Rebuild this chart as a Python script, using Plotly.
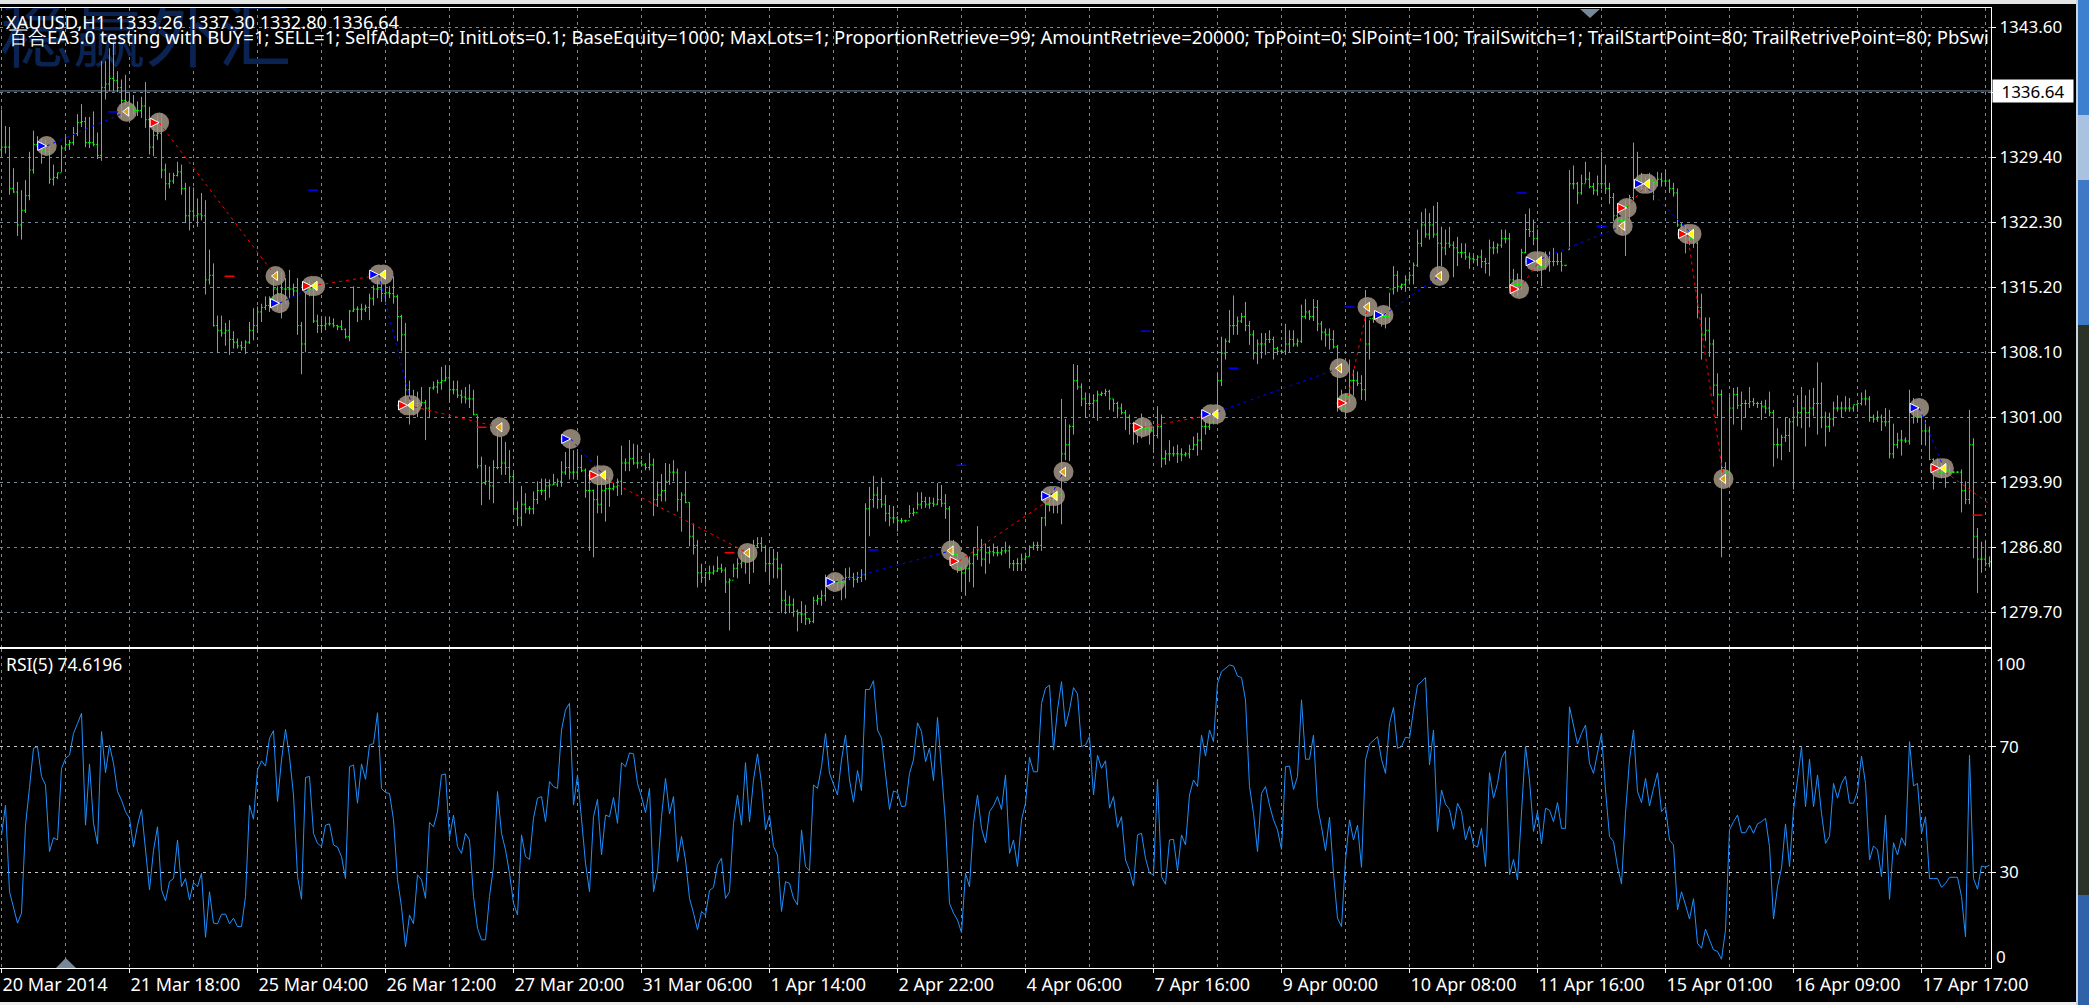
import plotly.graph_objects as go

# hourly bars of XAUUSD, one value per bar
highs = [1334.6,1332.8,1332.7,1328.2,1326.7,1325.8,1326.9,1330,1332.3,1331.7,1331.5,1331.3,1330.6,1328.6,1327.7,1330.7,
1331.6,1331.3,1332.7,1334.1,1335.2,1333.8,1333.8,1334.4,1332.1,1339.9,1339.9,1341.3,1342,1338.8,1337.9,1338.4,
1336.4,1336.2,1335.5,1336,1337.6,1334.9,1333.5,1334,1334.2,1328.7,1327.7,1327.7,1328.9,1328.6,1326.6,1326.2,
1326.1,1324.9,1325.5,1324.7,1319.3,1317.8,1312.1,1312.1,1311.3,1311.6,1310.4,1309.6,1309.3,1309.4,1311.4,1312.9,
1313.1,1313.4,1314.2,1314.2,1316.4,1315.3,1316.9,1316.2,1317.1,1315.6,1316.2,1311.4,1315.6,1316,1315.1,1312.2,
1311.8,1312,1312,1311.8,1311.1,1311.6,1310.7,1312.7,1315.3,1313.1,1313.4,1313.3,1314.5,1315.4,1316,1316.4,
1315.6,1315.3,1316.4,1314.4,1312.2,1311.3,1305,1304,1303.8,1304.3,1302.9,1304.3,1304.9,1305.1,1306.5,1306.7,
1306.5,1305,1305,1304,1304.3,1304.6,1304,1301.2,1296.7,1295.8,1295.6,1296.3,1299.6,1298.9,1298.3,1297.4,
1294.9,1291.8,1293.5,1292.7,1291.3,1292.9,1294,1294.3,1294.3,1294.2,1294.8,1294.3,1296.2,1297.2,1298.2,1297.4,
1297.2,1296.9,1295.4,1294.2,1293.1,1296.8,1294.7,1294.3,1294.5,1293.8,1294.3,1297.9,1296.5,1298.5,1298.1,1298,
1296.3,1296,1297.1,1296.5,1294,1294.8,1296,1295.9,1296.3,1295.4,1292.8,1295.1,1291.7,1289.4,1287.6,1285,
1284.1,1284.8,1284.8,1285.8,1285,1284.6,1283.4,1285,1285.6,1286,1286.5,1286.1,1287.6,1287.9,1287.9,1287,
1286.5,1286.6,1286.3,1285,1282.1,1281.5,1281.2,1280,1280.9,1280.5,1279,1281.4,1281.6,1282.1,1283.8,1283.6,
1283.8,1283.4,1283.6,1284.5,1284.6,1284,1284.1,1284.4,1291.6,1293.4,1294.6,1293.4,1294.4,1292.5,1291.4,1291.3,
1290.2,1290,1289.8,1291.4,1291.1,1292.8,1292.8,1292.3,1292.3,1292.2,1293.8,1293.6,1292.6,1291.3,1287.6,1286.1,
1284.7,1284.9,1285.8,1286.7,1289.1,1287.7,1287.2,1286.9,1287.2,1286.9,1286.7,1287.4,1287,1285.4,1285.6,1286.1,
1286.2,1287,1287.4,1287.4,1290.1,1292.7,1293.1,1293.2,1293.1,1303,1300.8,1300.2,1306.8,1306.7,1304.7,1303.7,
1303.4,1303.5,1303.9,1303.8,1304.1,1304,1303,1302.7,1302.5,1301.8,1301.3,1300.5,1300.2,1301.4,1300.5,1300.3,
1300,1302.2,1301.3,1297.4,1298.5,1297.8,1298,1297.6,1297.2,1298,1298.9,1299.3,1301.1,1300.7,1300.9,1301.8,
1305.8,1309.8,1309.6,1312.7,1314.3,1312,1312.4,1313.6,1311.5,1310.5,1309.5,1310.2,1310.2,1310.5,1309.8,1308.7,
1308.4,1311.2,1310.5,1310.5,1309.6,1313.3,1313.9,1312.7,1313.9,1313.8,1311.5,1310.7,1310.7,1310.5,1308.9,1304,
1303.6,1307.3,1306.2,1306,1305.6,1314.9,1311.6,1312.2,1312.5,1312.7,1312.5,1314.6,1317.5,1317,1315.6,1316.5,
1316.9,1317.9,1321.5,1323.4,1323.8,1323.3,1324.1,1324.5,1321.8,1321.5,1321.8,1320.2,1320.7,1320,1320,1319,
1318.7,1318.7,1319.3,1318.4,1320.4,1320.2,1320,1321.5,1321.5,1321.1,1317.2,1316.7,1319.4,1323.2,1323.8,1322.6,
1321.5,1318.5,1319.1,1319.1,1319.5,1318.9,1319,1317.6,1328,1328.5,1326.7,1327.5,1328.9,1327.8,1326.6,1327.4,
1330,1328.6,1326.6,1325.5,1324.4,1322.9,1324.7,1325.3,1331,1330,1327.7,1327.3,1327.7,1326.7,1327.8,1327.7,
1328,1327,1326.6,1326,1322.2,1322,1321.5,1321.1,1320.2,1314.5,1311.9,1311.9,1309.5,1305.8,1304,1296.1,
1303.3,1304.2,1304.3,1303.8,1302.9,1304.3,1303.1,1302.7,1302.8,1302.9,1303.8,1301.8,1299.8,1299.1,1301,1300.9,
1301.8,1303.4,1304.3,1303.4,1304,1304.2,1307,1304.8,1301.6,1301.5,1302.7,1303.4,1302.7,1303.3,1303.1,1302.3,
1302.5,1303.7,1304,1303.3,1301.3,1301.7,1301.3,1302,1301.8,1300.3,1299.3,1299.6,1298.8,1304,1303.1,1302.3,
1301.6,1300.7,1300,1296.5,1296.5,1296.3,1296,1295.6,1295.1,1295.1,1295.3,1294,1301.8,1298.7,1288.9,1287.4,
1287.6,1285.8]
lows = [1329.5,1329.8,1325.3,1325.5,1320.8,1320.4,1323.3,1324.7,1327.6,1330.2,1328.7,1329.6,1326.5,1326.3,1327,1327.8,
1330.1,1330.2,1330.7,1331.7,1332.7,1330.5,1330.4,1330.6,1329.2,1329,1335.7,1336.6,1336.6,1336.5,1333.7,1335.1,
1333.5,1334,1333.9,1333.7,1332.6,1329.7,1329.5,1331.3,1327.1,1324.7,1326,1326.5,1327.3,1325.3,1322.2,1321.4,
1322.5,1321.8,1322.5,1314.4,1315.5,1310.9,1308,1309.8,1308.8,1307.8,1308.5,1308.5,1308.3,1307.9,1309,1309.4,
1310.2,1311.4,1312.7,1312.5,1313.4,1312.7,1311.8,1313.4,1314,1314.2,1310,1305.7,1308.1,1314.2,1311.3,1310.2,
1310.2,1310.5,1311,1310.8,1310.5,1310.5,1309.6,1309.3,1312.5,1311.4,1311.6,1312.5,1311.6,1313.2,1314,1313.6,
1313.3,1314,1313.4,1309.3,1308.2,1302.5,1300.2,1301.2,1301,1302.2,1298.5,1300.9,1304,1303.6,1304,1304.9,
1302.7,1303.5,1303.1,1302.5,1302.5,1302,1301.2,1295.4,1291.4,1293.6,1292,1291.6,1295.3,1294.7,1294.7,1293.8,
1290.5,1289.1,1289.1,1290.5,1290.4,1290.4,1291.5,1292.5,1291.9,1292.2,1293.6,1293.4,1293.4,1294.7,1294.2,1294.2,
1294.2,1295,1292.2,1286.4,1285.7,1290.5,1290.5,1289.6,1291.2,1293,1292.4,1292.5,1295.1,1295.1,1295.8,1295.4,
1295.6,1295.2,1295.2,1290.2,1291.2,1291.8,1291.8,1293.6,1294,1290.7,1288.5,1291.6,1286.9,1286,1282.4,1282.9,
1282.5,1283.2,1283.8,1284.1,1284,1281.8,1277.7,1283.5,1283.4,1284.5,1283.9,1282.8,1284,1286.7,1286.3,1284.1,
1283,1283.4,1283.4,1279.6,1279.5,1279.6,1279.2,1277.6,1278.5,1278.3,1278.4,1278.5,1280.5,1280.4,1280.9,1282.5,
1282.5,1282.1,1281,1281.2,1283.2,1282.4,1282.9,1283,1283.2,1288,1291.1,1291,1291.1,1289.6,1289.1,1289.4,
1288.5,1289.4,1289.5,1290,1290.2,1290.9,1291,1291.1,1291,1291.2,1291.4,1291.2,1289.9,1286.5,1285.8,1284,
1282,1281.5,1283,1282.4,1285.4,1284.7,1283.9,1285,1285.8,1285.8,1285.9,1286.1,1284.5,1284.2,1284.2,1284.2,
1285,1285.8,1286.5,1286.4,1286.4,1289.1,1290.7,1290.5,1290.5,1289.3,1296.3,1296.2,1299.1,1304,1302.2,1300.9,
1302.2,1301,1300.6,1303.3,1303.3,1301.8,1301.6,1300.9,1301.3,1299.6,1299.1,1298,1298.2,1298.7,1299.1,1298,
1297.1,1298.7,1295.5,1295.8,1296.2,1296.7,1296,1296.2,1296.7,1296.5,1297.4,1296.8,1297.4,1299.1,1299.6,1300.2,
1300.2,1304.4,1307.3,1309.1,1310,1310,1311.3,1310.4,1308.9,1307.3,1306.8,1307.4,1307.8,1309.1,1307.3,1307.8,
1307.9,1307.8,1308.1,1308.7,1308.7,1309.1,1311.7,1311.6,1311.5,1310.4,1309.4,1308.7,1308.4,1308.5,1301.6,1301.6,
1300.8,1302.5,1303.4,1304.4,1302.9,1302.8,1307.3,1311.3,1311.5,1310.9,1310.7,1311.3,1314.4,1314.7,1314.9,1314.7,
1315.5,1315.5,1317.4,1319.6,1320.6,1320.4,1320.6,1316.6,1317.5,1318.7,1319.5,1316.3,1317.5,1318.4,1318.2,1317.2,
1317.8,1317.5,1317.3,1316.7,1316.4,1318.8,1318.9,1319.5,1320,1315.1,1314.2,1314.2,1314.9,1318.9,1320.7,1319.8,
1316.9,1315.3,1317.1,1316.9,1317.5,1317.6,1316.9,1317.5,1319.3,1325.9,1324.3,1325.3,1326.6,1326,1325.3,1325.2,
1325.9,1325.4,1324.3,1322.4,1321.5,1320.9,1318.6,1322.4,1324.7,1326.6,1325.5,1325.5,1326.2,1324.7,1326.2,1326.2,
1326.2,1325.5,1325.1,1321.8,1320.7,1318.9,1319.8,1319.5,1311.8,1307.3,1309.3,1307.6,1303.3,1301.1,1285.7,1293.4,
1293.3,1300.2,1301.9,1299.6,1301,1302,1302.2,1302,1300.7,1301.4,1301.1,1295.6,1296.5,1296.3,1298.3,1297.2,
1293.1,1300,1299.8,1297.8,1299.9,1301.1,1299.1,1299.8,1297.8,1299.4,1300,1301.6,1301,1301.6,1301.6,1301.6,
1301.6,1302.3,1302.3,1300.5,1300.4,1300.5,1299.5,1300,1296.5,1296.5,1297.6,1296.8,1298.2,1298,1300.3,1300.4,
1298,1297.9,1296.3,1293.1,1294.9,1294.3,1293.3,1294.9,1294.9,1294.9,1290.6,1291.5,1291.5,1285.6,1281.8,1284,
1284.7,1284.6]
opens = [1330.2,1330.5,1330.5,1326,1325.6,1322,1323.6,1325.2,1328,1330.8,1330.5,1330.2,1330,1327,1327.2,1327.7,
1330.4,1330.8,1331,1332,1333.2,1333.3,1331,1331,1330.8,1329.6,1337,1337.4,1338,1337.8,1337,1335.6,
1335.5,1335,1334.5,1334.5,1335,1333.5,1330.5,1331.8,1332,1328,1326.5,1326.8,1327.4,1327.8,1326,1323,
1323.5,1323,1323.2,1323,1316,1316.5,1311,1310.5,1310.2,1310.5,1309.5,1309.2,1308.8,1308.6,1309.2,1310.5,
1311,1312.5,1313,1313.2,1314,1315,1314.5,1315,1315,1315,1314.8,1311,1309,1314.8,1315,1311.5,
1311,1311,1311.2,1311.2,1311,1310.9,1310.6,1309.8,1312.6,1312.8,1312.8,1312.8,1313,1314,1315,1315,
1314.5,1314.6,1314.5,1314.2,1312,1310,1304,1302,1302.5,1302.5,1302.6,1302,1304.2,1304.3,1304.8,1305,
1305.3,1304,1304,1303.4,1303.2,1303,1303,1301.3,1295.7,1293.8,1294,1293.5,1295.5,1295.5,1296,1295.5,
1294.5,1291,1290,1291.5,1291,1291,1292,1293,1293,1293.5,1293.6,1293.7,1294,1295,1295.5,1295,
1295,1295.5,1295.2,1293,1293,1292,1291.5,1293,1293.2,1293.2,1293.4,1294,1296,1296,1296.5,1296,
1296,1295.8,1295.5,1295.8,1292,1292.5,1293,1294,1295,1295,1292,1292.5,1291.7,1288,1287,1284,
1283.5,1284,1284,1284.2,1284.5,1284.3,1283,1283.2,1284.5,1285,1285.2,1286,1285.5,1287,1287.2,1286.8,
1285,1285,1285.5,1284.5,1281,1280.5,1280.5,1279.8,1279.5,1279.5,1279,1278.7,1281,1281.2,1281.5,1283,
1283,1283,1283,1283,1283.5,1283.5,1283.3,1283.5,1283.8,1291,1292,1292.5,1292,1291.5,1290.5,1290,
1290,1289.7,1289.7,1289.7,1290.5,1290.6,1291.5,1291.8,1291.5,1291.6,1291.5,1292,1291.6,1291,1287,1286,
1284.5,1284,1284.5,1285,1286,1286.5,1285.5,1286.2,1286.3,1286.2,1286.2,1286.4,1286.4,1285,1285,1285,
1285.5,1285.8,1286.8,1287,1287,1290,1291.5,1292,1292,1292.5,1297,1298,1300,1305,1304.3,1303,
1302.5,1302.5,1302.8,1303.5,1303.6,1303.8,1303,1302.5,1302,1301.5,1301,1300.3,1299.5,1299.5,1299.8,1299.8,
1299.5,1299,1300,1296.5,1297,1297,1297,1297,1296.9,1297,1297.5,1298,1298.5,1300,1300,1300.5,
1301,1305,1308,1309.3,1311,1311,1311.5,1312,1311,1310,1308,1309,1309,1309.5,1309.5,1308.5,
1308.2,1308.2,1309,1309.5,1309,1309.3,1312,1312.5,1312,1313,1311.2,1310.3,1310,1309.5,1308.7,1303,
1302,1303.3,1305,1305,1304.7,1304,1309,1311.8,1311.8,1312,1312,1312,1315,1316.5,1315.3,1315.5,
1316,1316.5,1317.6,1320,1322,1321,1322,1321,1320,1319.5,1320,1319.8,1319.5,1319,1319,1318.5,
1318.3,1318.2,1318.5,1318,1317.8,1319.5,1319.5,1319.8,1320.5,1320.5,1316,1315.5,1315.5,1319,1321.5,1321.3,
1320.5,1317.5,1317.5,1318,1318,1318,1318,1317.6,1319.3,1326.5,1326.5,1325.5,1326.5,1327,1326.2,1325.8,
1326.5,1326.5,1326,1325,1323,1322.5,1322.5,1324,1325,1326.8,1327,1326.5,1326.5,1326.8,1326.6,1327,
1326.8,1326.8,1326,1325.5,1322,1321.5,1321,1320.5,1320,1313,1310,1310.5,1309,1304.5,1303.5,1295.5,
1295,1302,1303.5,1302.3,1302.5,1302.5,1302.7,1302.5,1302.5,1302.2,1302,1301.5,1298,1298,1298.8,1299,
1300.5,1301,1301.5,1302,1301.5,1302,1302.5,1302.5,1301,1300,1300.8,1302,1302,1302,1302,1302,
1302.4,1302.5,1303,1303,1301,1300.8,1301,1300.5,1300.5,1297,1298,1298.5,1298.5,1298.4,1302,1301,
1301,1299.5,1299.5,1296.4,1295.5,1295,1295,1295.2,1295,1295,1295,1293,1292,1298,1288,1285.5,
1285.5,1285]
closes = [1330.5,1330.5,1326,1325.6,1322,1323.6,1325.2,1328,1330.8,1330.5,1330.2,1330,1327,1327.2,1327.7,1330.4,
1330.8,1331,1332,1333.2,1333.3,1331,1331,1330.8,1329.6,1337,1337.4,1338,1337.8,1337,1335.6,1335.5,
1335,1334.5,1334.5,1335,1333.5,1330.5,1331.8,1332,1328,1326.5,1326.8,1327.4,1327.8,1326,1323,1323.5,
1323,1323.2,1323,1316,1316.5,1311,1310.5,1310.2,1310.5,1309.5,1309.2,1308.8,1308.6,1309.2,1310.5,1311,
1312.5,1313,1313.2,1314,1315,1314.5,1315,1315,1315,1314.8,1311,1309,1314.8,1315,1311.5,1311,
1311,1311.2,1311.2,1311,1310.9,1310.6,1309.8,1312.6,1312.8,1312.8,1312.8,1313,1314,1315,1315,1314.5,
1314.6,1314.5,1314.2,1312,1310,1304,1302,1302.5,1302.5,1302.6,1302,1304.2,1304.3,1304.8,1305,1305.3,
1304,1304,1303.4,1303.2,1303,1303,1301.3,1295.7,1293.8,1294,1293.5,1295.5,1295.5,1296,1295.5,1294.5,
1291,1290,1291.5,1291,1291,1292,1293,1293,1293.5,1293.6,1293.7,1294,1295,1295.5,1295,1295,
1295.5,1295.2,1293,1293,1292,1291.5,1293,1293.2,1293.2,1293.4,1294,1296,1296,1296.5,1296,1296,
1295.8,1295.5,1295.8,1292,1292.5,1293,1294,1295,1295,1292,1292.5,1291.7,1288,1287,1284,1283.5,
1284,1284,1284.2,1284.5,1284.3,1283,1283.2,1284.5,1285,1285.2,1286,1285.5,1287,1287.2,1286.8,1285,
1285,1285.5,1284.5,1281,1280.5,1280.5,1279.8,1279.5,1279.5,1279,1278.7,1281,1281.2,1281.5,1283,1283,
1283,1283,1283,1283.5,1283.5,1283.3,1283.5,1283.8,1291,1292,1292.5,1292,1291.5,1290.5,1290,1290,
1289.7,1289.7,1289.7,1290.5,1290.6,1291.5,1291.8,1291.5,1291.6,1291.5,1292,1291.6,1291,1287,1286,1284.5,
1284,1284.5,1285,1286,1286.5,1285.5,1286.2,1286.3,1286.2,1286.2,1286.4,1286.4,1285,1285,1285,1285.5,
1285.8,1286.8,1287,1287,1290,1291.5,1292,1292,1292.5,1297,1298,1300,1305,1304.3,1303,1302.5,
1302.5,1302.8,1303.5,1303.6,1303.8,1303,1302.5,1302,1301.5,1301,1300.3,1299.5,1299.5,1299.8,1299.8,1299.5,
1299,1300,1296.5,1297,1297,1297,1297,1296.9,1297,1297.5,1298,1298.5,1300,1300,1300.5,1301,
1305,1308,1309.3,1311,1311,1311.5,1312,1311,1310,1308,1309,1309,1309.5,1309.5,1308.5,1308.2,
1308.2,1309,1309.5,1309,1309.3,1312,1312.5,1312,1313,1311.2,1310.3,1310,1309.5,1308.7,1303,1302,
1303.3,1305,1305,1304.7,1304,1309,1311.8,1311.8,1312,1312,1312,1315,1316.5,1315.3,1315.5,1316,
1316.5,1317.6,1320,1322,1321,1322,1321,1320,1319.5,1320,1319.8,1319.5,1319,1319,1318.5,1318.3,
1318.2,1318.5,1318,1317.8,1319.5,1319.5,1319.8,1320.5,1320.5,1316,1315.5,1315.5,1319,1321.5,1321.3,1320.5,
1317.5,1317.5,1318,1318,1318,1318,1317.6,1317.6,1326.5,1326.5,1325.5,1326.5,1327,1326.2,1325.8,1326.5,
1326.5,1326,1325,1323,1322.5,1322.5,1324,1325,1326.8,1327,1326.5,1326.5,1326.8,1326.6,1327,1326.8,
1326.8,1326,1325.5,1322,1321.5,1321,1320.5,1320,1313,1310,1310.5,1309,1304.5,1303.5,1295.5,1295,
1302,1303.5,1302.3,1302.5,1302.5,1302.7,1302.5,1302.5,1302.2,1302,1301.5,1298,1298,1298.8,1299,1300.5,
1301,1301.5,1302,1301.5,1302,1302.5,1302.5,1301,1300,1300.8,1302,1302,1302,1302,1302,1302.4,
1302.5,1303,1303,1301,1300.8,1301,1300.5,1300.5,1297,1298,1298.5,1298.5,1298.4,1302,1301,1301,
1299.5,1299.5,1296.4,1295.5,1295,1295,1295.2,1295,1295,1295,1293,1292,1298,1288,1285.5,1285.5,
1285,1285.2]
rsi = [41.9,51.4,23.8,19,13.8,17,45,57,69.5,70,60.5,57.8,36.6,41,40.3,63,
66.3,67.3,74.2,77.4,80.6,45,64.5,45.6,39,74.8,61.7,70.5,64.7,55.7,53,49.3,
47.2,38,45,50,38.2,24.4,37,44.5,24.4,20.9,27,28,40.3,25.4,28,21.2,
26.7,25.4,29.7,9.3,23.8,13.8,13.6,16.6,16.7,13.6,15.4,12.7,12.7,22.3,51.4,46.9,
62.6,65.5,63.8,72.7,75.1,52.5,65.8,75.5,66.8,54.6,28.6,21.4,60.2,60.5,42.4,39.2,
38.2,45,45.4,38.7,38,35,28,63.6,64.2,52,64.5,59.6,70.5,71,80.8,56.7,
55.4,55.1,46.7,27.6,19,6.3,16.4,13.6,29.2,27.6,21.7,45.9,44.5,49.3,61,61.3,
41.1,48.2,38.2,36,42.4,40.3,22.3,12.2,8.5,8.5,22.3,31.8,55.7,42.4,37.1,29.7,
20.1,16.4,41.9,35,34.1,47.2,53.6,54.1,46.1,58.9,57.3,56.7,75.3,81.7,83.8,51.4,
61,47.7,32.9,23.8,47.7,53.2,35.5,48.2,47.7,53.8,45.6,64.9,63.6,68,67.7,58.3,
54.1,49,56.7,23.8,30.2,47.7,59.9,48.6,54.1,33.4,41.4,33.9,21.7,17,11.7,17.5,
16.4,24.2,25.2,32.3,34.5,21.7,23.8,45.6,54.6,45,64.9,46.1,59.4,67.7,58.3,43.5,
48.2,38.2,35.5,17.5,27,26.5,21.7,19.6,43.5,31.8,30.5,57.8,56.7,63.6,74.2,61.5,
57.8,54.6,65.8,73.7,59.4,52.3,62.4,56,88.2,88.2,91,75.3,72.7,62,50,55.9,
55.4,50.9,51.1,61.5,65.8,77.6,74.8,65.2,69.5,59.2,79.3,62.6,45.6,20.1,17,14.8,
10.8,29.7,25.4,45.6,54.6,44,39.4,49.3,51.2,54.1,50,61,36,40.3,31.8,46.7,
52,66.6,62,62,83.8,88.6,89.6,68.9,81.7,90.7,76.4,81.7,88.8,86.8,70,70.5,
73.2,54.6,67.3,63.1,65.5,50.4,54.1,44.3,47.7,33.9,30.7,25.6,41.9,42.4,34.5,29.7,
29.2,59.6,28.6,26.2,40.3,40.5,30.5,41.9,38.7,54.6,59.4,57.3,73.7,67,75.3,71.6,
90.2,93.9,94.9,96,95.7,92.5,92,84.9,57.3,48.8,36.6,55.1,57.3,51.4,46.7,43.5,
37.3,63.6,63.8,56.4,60.5,84.9,66,66,73.7,50.9,44.5,36.9,47.5,29.7,15.4,12.7,
33.9,46.7,40.3,45,31.6,65.8,70.8,72.1,73.2,66,61.5,77.4,82.5,69.5,70,73,
72.7,81.7,89.6,90.7,92,64.2,75.3,43,56.2,51.7,50,43.7,52,49.3,40.3,44.7,
38.7,38,44,31.8,61.7,53.6,58.3,66.3,68.7,29.2,34.1,27.6,49.8,70.2,59.4,43,
49.3,39,50.4,49.8,46.1,52.2,44,44,82.7,76.4,70.8,74.2,76.9,64.7,61.5,68,
74.2,56.2,41.4,39.8,31.8,26.3,48.8,65.8,75.3,55.7,52.2,59.9,51.1,56.7,61.7,49.3,
50.9,40.3,38.7,18,23.8,19.6,15.1,21.6,7.4,5.8,11.9,8.5,5.3,4.8,2.3,11.6,
43.5,46.1,48.2,42.6,42.6,45,42.4,45.4,46.1,47.2,38.2,15.1,25.4,31.3,45.4,31.8,
49.8,59.4,70,50.9,66,50.9,61,48.8,39.2,41.4,58.3,53.6,58.3,60.6,52,52,
55.7,67,58.3,33.9,38.4,37.1,28.6,48.2,21.4,39.4,35.5,41,38.4,71.6,57.5,58.3,
42.4,47.7,28,28,28,25.2,26.5,28.4,28.4,28.4,22.3,9.5,67.3,28,24.6,32,
31.6,32.3]

time_labels = ["20 Mar 2014", "21 Mar 18:00", "25 Mar 04:00", "26 Mar 12:00", "27 Mar 20:00", "31 Mar 06:00",
               "1 Apr 14:00", "2 Apr 22:00", "4 Apr 06:00", "7 Apr 16:00", "9 Apr 00:00", "10 Apr 08:00",
               "11 Apr 16:00", "15 Apr 01:00", "16 Apr 09:00", "17 Apr 17:00"]
price_ticks = [1343.6, 1336.5, 1329.4, 1322.3, 1315.2, 1308.1, 1301.0, 1293.9, 1286.8, 1279.7]
price_labels = ["1343.60", "", "1329.40", "1322.30", "1315.20", "1308.10", "1301.00", "1293.90", "1286.80", "1279.70"]
last_price = 1336.64

# trades, (bar, price)
buy_bars = [11.3, 69.5, 94.3, 142.3, 208.4, 262.3, 302.3, 345.5, 383.4, 410.5, 479.4]
buy_prices = [1330.63, 1313.45, 1316.58, 1298.63, 1283.0, 1292.4, 1301.33, 1312.17, 1318.04, 1326.5, 1302.02]
sell_bars = [39.4, 77.5, 101.5, 149.3, 239.4, 285.3, 336.3, 379.4, 406.3, 421.5, 484.6]
sell_prices = [1333.18, 1315.34, 1302.3, 1294.67, 1285.27, 1299.9, 1302.56, 1315.0, 1323.86, 1321.02, 1295.43]
orange_bars = [31.3, 68.5, 124.6, 186.5, 237.4, 265.5, 334.5, 341.5, 359.5, 405.3, 430.5]
orange_prices = [1334.38, 1316.43, 1299.9, 1286.18, 1286.43, 1295.03, 1306.35, 1313.05, 1316.43, 1321.9, 1294.26]
yellow_bars = [78.4, 95.5, 102.5, 150.5, 263.4, 303.6, 384.5, 411.5, 422.5, 485.6]
yellow_prices = [1315.34, 1316.58, 1302.3, 1294.67, 1292.4, 1301.33, 1318.04, 1326.5, 1321.02, 1295.43]

blue_trades = [(11.3, 1330.63, 31.3, 1334.38), (69.5, 1313.45, 78.4, 1315.34), (94.3, 1316.58, 102.5, 1302.3),
               (142.3, 1298.63, 150.5, 1294.67), (208.4, 1283.0, 237.4, 1286.43), (262.3, 1292.4, 265.5, 1295.03),
               (302.3, 1301.33, 334.5, 1306.35), (345.5, 1312.17, 359.5, 1316.43), (383.4, 1318.04, 405.3, 1321.9),
               (410.5, 1326.5, 422.5, 1321.02), (479.4, 1302.02, 485.6, 1295.43)]
red_trades = [(39.4, 1333.18, 68.5, 1316.43), (77.5, 1315.34, 95.5, 1316.58), (101.5, 1302.3, 124.6, 1299.9),
              (149.3, 1294.67, 186.5, 1286.18), (239.4, 1285.27, 263.4, 1292.4), (285.3, 1299.9, 303.6, 1301.33),
              (336.3, 1302.56, 341.5, 1313.05), (379.4, 1315.0, 384.5, 1318.04), (406.3, 1323.86, 411.5, 1326.5),
              (421.5, 1321.02, 430.5, 1294.26), (484.6, 1295.43, 497.4, 1291.4)]

# short level dashes left on the chart
blue_dash_bars = [27.9, 77.9, 218, 240, 286, 308, 337, 380, 400]
blue_dash_prices = [1334.35, 1325.8, 1286.5, 1295.75, 1310.4, 1306.35, 1313.05, 1325.5, 1321.86]
red_dash_bars = [57, 120, 182, 494]
red_dash_prices = [1316.4, 1299.9, 1286.2, 1290.3]

W, H = 2089, 1005
GRID = "#778899"
FONT = "Noto Sans"


def segments(rows):
    xs, ys = [], []
    for x0, y0, x1, y1 in rows:
        xs += [x0, x1, None]
        ys += [y0, y1, None]
    return xs, ys


# bar chart style: range line, open tick left, close tick right
bar_rows = []
for i, (o, h, l, c) in enumerate(zip(opens, highs, lows, closes)):
    bar_rows += [(i, l, i, h), (i - 0.35, o, i, o), (i, c, i + 0.35, c)]
bar_x, bar_y = segments(bar_rows)

fig = go.Figure()

# watermark sits under everything
fig.add_trace(go.Scatter(x=[36], y=[1341.9], mode="text", text=["稳赢外汇"], textposition="middle center",
                         textfont=dict(family="Noto Sans CJK SC", size=73, color="#0b2352"), hoverinfo="skip"))

# grey halos go under the bars
fig.add_trace(go.Scatter(x=buy_bars + sell_bars + orange_bars + yellow_bars,
                         y=buy_prices + sell_prices + orange_prices + yellow_prices,
                         mode="markers", marker=dict(symbol="circle", size=20, color="#8a7f70"), hoverinfo="skip"))

fig.add_trace(go.Scatter(x=bar_x, y=bar_y, mode="lines", line=dict(color="#00ff00", width=1), hoverinfo="skip"))

bx, by = segments(blue_trades)
rx, ry = segments(red_trades)
fig.add_trace(go.Scatter(x=bx, y=by, mode="lines", line=dict(color="#0000ff", width=1, dash="3px,4px"), hoverinfo="skip"))
fig.add_trace(go.Scatter(x=rx, y=ry, mode="lines", line=dict(color="#ff0000", width=1, dash="3px,4px"), hoverinfo="skip"))

fig.add_trace(go.Scatter(x=blue_dash_bars, y=blue_dash_prices, mode="markers", hoverinfo="skip",
                         marker=dict(symbol="line-ew", size=7, line=dict(color="#0000ff", width=1.5))))
fig.add_trace(go.Scatter(x=red_dash_bars, y=red_dash_prices, mode="markers", hoverinfo="skip",
                         marker=dict(symbol="line-ew", size=7, line=dict(color="#ff0000", width=1.5))))

fig.add_trace(go.Scatter(x=orange_bars, y=orange_prices, mode="markers", hoverinfo="skip",
                         marker=dict(symbol="triangle-left", size=8, color="#daa520", line=dict(color="white", width=1))))
fig.add_trace(go.Scatter(x=yellow_bars, y=yellow_prices, mode="markers", hoverinfo="skip",
                         marker=dict(symbol="triangle-left", size=8, color="#ffff00", line=dict(color="white", width=1))))
fig.add_trace(go.Scatter(x=buy_bars, y=buy_prices, mode="markers", hoverinfo="skip",
                         marker=dict(symbol="arrow-right", size=9, color="#0000ff", line=dict(color="white", width=1))))
fig.add_trace(go.Scatter(x=sell_bars, y=sell_prices, mode="markers", hoverinfo="skip",
                         marker=dict(symbol="arrow-right", size=9, color="#ff0000", line=dict(color="white", width=1))))

fig.add_trace(go.Scatter(x=list(range(len(rsi))), y=rsi, mode="lines", xaxis="x2", yaxis="y2",
                         line=dict(color="#1e90ff", width=1), hoverinfo="skip"))


def band(x0, x1, y0, y1, color):
    # pixel box from the top-left of the window
    return dict(type="rect", xref="paper", yref="paper", x0=x0 / W, x1=x1 / W, y0=1 - y1 / H, y1=1 - y0 / H,
                fillcolor=color, line_width=0, layer="below")


shapes = [
    # window chrome around the chart
    band(0, W, 0, 4, "#e4e4e4"),
    band(0, W, 1002, H, "#eeeeee"),
    band(2076, 2078, 0, H, "#c8d4e0"),
    # desktop picture showing at the right edge
    band(2078, W, 0, 115, "#3f7fd0"),
    band(2078, W, 115, 180, "#a9c2e0"),
    band(2078, W, 180, 325, "#3f78c4"),
    band(2078, W, 325, 895, "#2b3328"),
    band(2078, W, 895, H, "#2f62a8"),
    # last price line
    dict(type="line", xref="paper", yref="y", x0=0, x1=1991 / W, y0=last_price, y1=last_price,
         line=dict(color=GRID, width=1), layer="below"),
    # scroll triangles
    dict(type="path", xref="paper", yref="paper", fillcolor=GRID, line_width=0,
         path=f"M {56 / W} {1 - 968 / H} L {65.7 / W} {1 - 958 / H} L {76 / W} {1 - 968 / H} Z"),
    dict(type="path", xref="paper", yref="paper", fillcolor=GRID, line_width=0,
         path=f"M {1580 / W} {1 - 9 / H} L {1590 / W} {1 - 18 / H} L {1600 / W} {1 - 9 / H} Z"),
]


def text_note(text, x, y, size=17):
    return dict(text=text, x=x, y=y, xref="paper", yref="paper", xanchor="left", yanchor="middle", showarrow=False,
                font=dict(family=FONT, size=size, color="white"))


header = ("百合EA3.0 testing with BUY=1; SELL=1; SelfAdapt=0; InitLots=0.1; BaseEquity=1000; MaxLots=1; "
          "ProportionRetrieve=99; AmountRetrieve=20000; TpPoint=0; SlPoint=100; TrailSwitch=1; "
          "TrailStartPoint=80; TrailRetrivePoint=80; PbSwi")
annotations = [
    text_note("XAUUSD,H1  1333.26 1337.30 1332.80 1336.64", 4 / W, 1 - 22 / H, 18.2),
    text_note(header, 7 / W, 1 - 36 / H, 18.5),
    text_note("RSI(5) 74.6196", 4 / W, 1 - 664 / H, 17.5),
    text_note("100", 1994 / W, 1 - 663 / H),
    text_note("0", 1994 / W, 1 - 956 / H),
    dict(text=f"{last_price:.2f}", x=1992 / W, y=last_price, xref="paper", yref="y", xanchor="left", yanchor="middle",
         showarrow=False, bgcolor="white", width=78, height=20, align="center",
         font=dict(family=FONT, size=17, color="black")),
]

minor_grid = dict(tickvals=list(range(16, 498, 32)), showgrid=True, gridcolor=GRID, griddash="3px,4px", gridwidth=1, ticks="")
x_common = dict(domain=[0, 1991 / W], range=[-0.375, 497.375], showline=True, linecolor="white", linewidth=1, mirror=True,
                tickmode="array", tickvals=list(range(0, 498, 32)), showgrid=True, gridcolor=GRID, griddash="3px,4px",
                gridwidth=1, zeroline=False, minor=minor_grid, fixedrange=True)
y_common = dict(side="right", showline=True, linecolor="white", linewidth=1, mirror=True, ticks="outside", ticklen=4,
                tickcolor="white", tickfont=dict(family=FONT, size=17, color="white"), zeroline=False, fixedrange=True)

fig.update_layout(
    width=W, height=H, margin=dict(l=0, r=0, t=0, b=0, autoexpand=False), showlegend=False,
    paper_bgcolor="black", plot_bgcolor="black",
    shapes=shapes, annotations=annotations, hovermode=False,
    xaxis=dict(anchor="y", showticklabels=False, ticks="", **x_common),
    xaxis2=dict(anchor="y2", ticks="outside", ticklen=4, tickcolor="white", ticktext=time_labels,
                ticklabelposition="outside right", tickfont=dict(family=FONT, size=18, color="white"), **x_common),
    yaxis=dict(anchor="x", domain=[1 - 647 / H, 1 - 8 / H], range=[1275.9, 1345.7], tickmode="array", tickvals=price_ticks,
               ticktext=price_labels, showgrid=True, gridcolor=GRID, griddash="3px,4px", gridwidth=1, **y_common),
    yaxis2=dict(anchor="x2", domain=[1 - 968 / H, 1 - 649 / H], range=[-0.48, 101.1], tickmode="array", tickvals=[30, 70],
                ticktext=["30", "70"], showgrid=True, gridcolor="#c8c8c8", griddash="3px,4px", gridwidth=1, **y_common),
)

fig.write_html("out.html", config=dict(displayModeBar=False),
               post_script="document.body.style.margin='0';document.body.style.overflow='hidden';")
